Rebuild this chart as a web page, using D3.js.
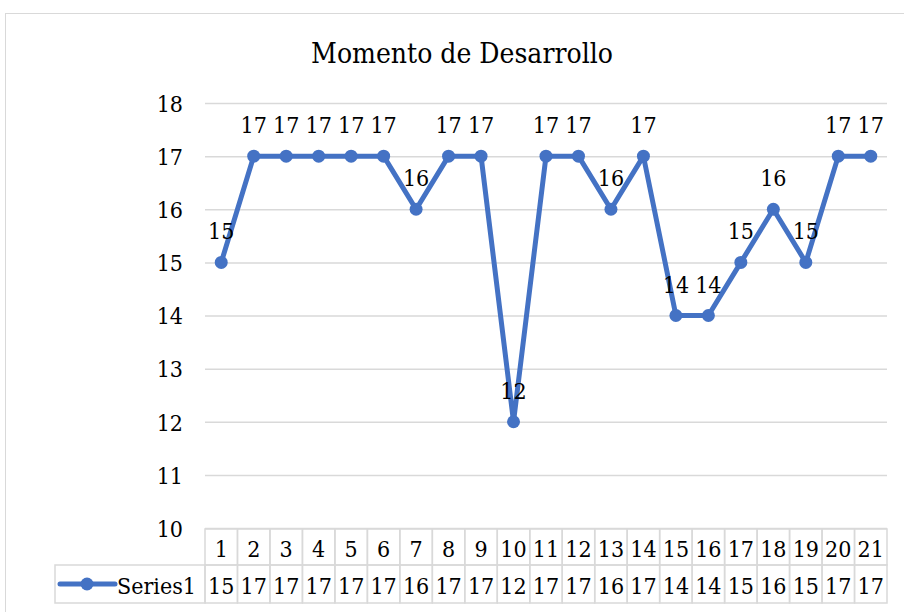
<!DOCTYPE html>
<html>
<head>
<meta charset="utf-8">
<script src="https://cdn.jsdelivr.net/npm/d3@7"></script>
<style>
  body { margin: 0; background: #fff; }
</style>
</head>
<body>
<script>
var width = 904;
var height = 612;

// data
var chartTitle = "Momento de Desarrollo";
var seriesName = "Series1";
var categories = ["1","2","3","4","5","6","7","8","9","10","11","12","13","14","15","16","17","18","19","20","21"];
var values = [15,17,17,17,17,17,16,17,17,12,17,17,16,17,14,14,15,16,15,17,17];
var yTicks = [10,11,12,13,14,15,16,17,18];

var blue = "#4472C4";
var grid = "#d9d9d9";
var serif = "'DejaVu Serif Condensed'";

// font has to sit on each text node, inheritance from <g> gets overridden
function font(sel, size) {
  sel.style("font-family", serif).style("font-size", size + "px").attr("fill", "#000");
}

var svg = d3.select("body").append("svg")
    .attr("width", width)
    .attr("height", height);

// outer chart border (right / bottom run off the picture)
svg.append("rect")
    .attr("x", 5.5).attr("y", 13.5)
    .attr("width", 920).attr("height", 620)
    .attr("fill", "#fff")
    .attr("stroke", grid);

var plotLeft = 205, plotRight = 887, plotTop = 103, plotBottom = 528;

var x = d3.scaleBand().domain(categories).range([plotLeft, plotRight]);
var y = d3.scaleLinear().domain([10, 18]).range([plotBottom, plotTop]);

svg.append("text")
    .attr("x", 462).attr("y", 63)
    .attr("text-anchor", "middle")
    .call(font, 28)
    .text(chartTitle);

// y axis with gridlines
var yAxis = svg.append("g")
    .attr("transform", "translate(" + plotLeft + ",0)")
    .call(d3.axisLeft(y).tickValues(yTicks).tickSize(-(plotRight - plotLeft)).tickPadding(22));
yAxis.select(".domain").remove();
yAxis.selectAll(".tick line").attr("stroke", grid).attr("stroke-width", 1.5);
yAxis.selectAll(".tick text")
    .call(font, 23)
    .attr("dy", "0.36em");

// data table
var rowTop = 529, rowMid = 565, rowBot = 603;
var table = svg.append("g");

table.selectAll("rect.head")
    .data(categories)
    .enter().append("rect")
    .attr("class", "head")
    .attr("x", function(d) { return x(d); })
    .attr("y", rowTop)
    .attr("width", x.bandwidth())
    .attr("height", rowMid - rowTop)
    .attr("fill", "none").attr("stroke", grid).attr("stroke-width", 1.5);

table.selectAll("rect.val")
    .data(categories)
    .enter().append("rect")
    .attr("class", "val")
    .attr("x", function(d) { return x(d); })
    .attr("y", rowMid)
    .attr("width", x.bandwidth())
    .attr("height", rowBot - rowMid)
    .attr("fill", "none").attr("stroke", grid).attr("stroke-width", 1.5);

table.append("rect")
    .attr("x", 55).attr("y", rowMid)
    .attr("width", plotLeft - 55).attr("height", rowBot - rowMid)
    .attr("fill", "none").attr("stroke", grid).attr("stroke-width", 1.5);

table.selectAll("text.head")
    .data(categories)
    .enter().append("text")
    .attr("class", "head")
    .attr("x", function(d) { return x(d) + x.bandwidth() / 2; })
    .attr("y", rowMid - 8)
    .attr("text-anchor", "middle")
    .call(font, 23)
    .text(function(d) { return d; });

table.selectAll("text.val")
    .data(values)
    .enter().append("text")
    .attr("class", "val")
    .attr("x", function(d, i) { return x(categories[i]) + x.bandwidth() / 2; })
    .attr("y", rowBot - 9)
    .attr("text-anchor", "middle")
    .call(font, 23)
    .text(function(d) { return d; });

// legend key in the table
var legY = (rowMid + rowBot) / 2;
table.append("line")
    .attr("x1", 60).attr("x2", 115)
    .attr("y1", legY).attr("y2", legY)
    .attr("stroke", blue).attr("stroke-width", 5).attr("stroke-linecap", "round");
table.append("circle")
    .attr("cx", 87).attr("cy", legY).attr("r", 6.5)
    .attr("fill", blue);
table.append("text")
    .attr("x", 117).attr("y", rowBot - 9)
    .call(font, 23)
    .text(seriesName);

// series line
var cx = function(d, i) { return x(categories[i]) + x.bandwidth() / 2; };

var line = d3.line()
    .x(cx)
    .y(function(d) { return y(d); });

svg.append("path")
    .datum(values)
    .attr("d", line)
    .attr("fill", "none")
    .attr("stroke", blue)
    .attr("stroke-width", 5)
    .attr("stroke-linejoin", "round")
    .attr("stroke-linecap", "round");

svg.selectAll("circle.pt")
    .data(values)
    .enter().append("circle")
    .attr("class", "pt")
    .attr("cx", cx)
    .attr("cy", function(d) { return y(d); })
    .attr("r", 6.5)
    .attr("fill", blue);

svg.append("g")
    .selectAll("text.lbl")
    .data(values)
    .enter().append("text")
    .attr("class", "lbl")
    .attr("x", cx)
    .attr("y", function(d) { return y(d) - 23; })
    .attr("text-anchor", "middle")
    .call(font, 23)
    .text(function(d) { return d; });
</script>
</body>
</html>
